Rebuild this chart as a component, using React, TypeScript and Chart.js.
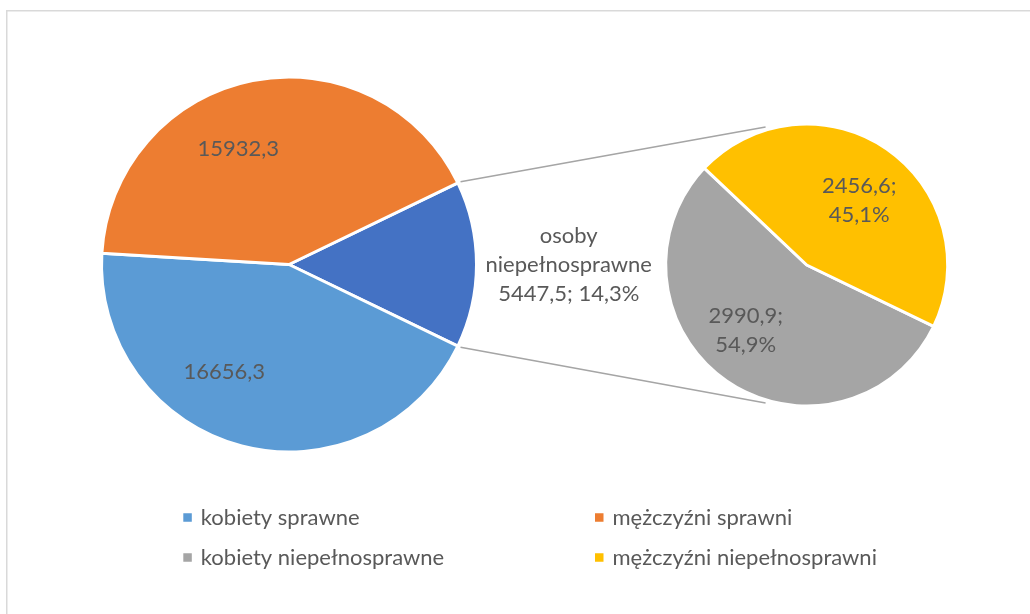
import { useEffect, useRef } from "react";
import { Chart, registerables } from "chart.js";

Chart.register(...registerables);

// ---- data ----
const mainLabels = ["osoby niepełnosprawne", "kobiety sprawne", "mężczyźni sprawni"];
const mainValues = [5447.5, 16656.3, 15932.3];
const mainColors = ["#4472C4", "#5B9BD5", "#ED7D31"];

const subLabels = ["kobiety niepełnosprawne", "mężczyźni niepełnosprawni"];
const subValues = [2990.9, 2456.6];
const subColors = ["#A5A5A5", "#FFC000"];

const legendLabels = ["kobiety sprawne", "mężczyźni sprawni", "kobiety niepełnosprawne", "mężczyźni niepełnosprawni"];

// ---- style ----
const W = 1030;
const H = 614;
const FONT = "22px Lato, 'Open Sans', sans-serif";
const TEXT = "#595959";
const BORDER = 3;
const MAIN_C = { x: 289, y: 264.5, r: 186 };
const SUB_C = { x: 806.7, y: 265, r: 139.5 };
// label placement relative to slice middle: angle offset (deg), radius factor
const mainLabelPos = [
  { da: 0, k: 1.504 },
  { da: 16.4, k: 0.676 },
  { da: -12.5, k: 0.68 },
];
const subLabelPos = [
  { da: 8.3, k: 0.642 },
  { da: 4.5, k: 0.597 },
];
const LINE_H = 29;

const fmt = (v: number) => v.toFixed(1).replace(".", ",");
const sum = (a: number[]) => a.reduce((s, v) => s + v, 0);

function labelPlugin(texts: string[][], pos: { da: number; k: number }[]) {
  return {
    id: "dataLabelsCustom",
    afterDatasetsDraw(chart: any) {
      const ctx = chart.ctx;
      const arcs = chart.getDatasetMeta(0).data;
      ctx.save();
      ctx.font = FONT;
      ctx.fillStyle = TEXT;
      ctx.textAlign = "center";
      ctx.textBaseline = "middle";
      arcs.forEach((arc: any, i: number) => {
        const { x, y, startAngle, endAngle, outerRadius } = arc.getProps(
          ["x", "y", "startAngle", "endAngle", "outerRadius"],
          true
        );
        const a = (startAngle + endAngle) / 2 + (pos[i].da * Math.PI) / 180;
        const r = (outerRadius - BORDER / 2) * pos[i].k;
        const cx = x + r * Math.cos(a);
        const cy = y + r * Math.sin(a);
        const lines = texts[i];
        lines.forEach((t, j) => ctx.fillText(t, cx, cy + (j - (lines.length - 1) / 2) * LINE_H));
      });
      ctx.restore();
    },
  };
}

export default function App() {
  const mainRef = useRef<HTMLCanvasElement>(null);
  const subRef = useRef<HTMLCanvasElement>(null);

  useEffect(() => {
    if (!mainRef.current || !subRef.current) return;
    const total = sum(mainValues);
    const subTotal = sum(subValues);
    const halfDeg = (mainValues[0] / total) * 180;

    const mainTexts = [
      ["osoby", "niepełnosprawne", `${fmt(mainValues[0])}; ${fmt((mainValues[0] / total) * 100)}%`],
      [fmt(mainValues[1])],
      [fmt(mainValues[2])],
    ];
    const subTexts = subValues.map((v) => [`${fmt(v)};`, `${fmt((v / subTotal) * 100)}%`]);

    const framePlugin = {
      id: "frame",
      beforeDraw(chart: any) {
        const ctx = chart.ctx;
        ctx.save();
        ctx.strokeStyle = "#d9d9d9";
        ctx.lineWidth = 1.5;
        ctx.beginPath();
        ctx.moveTo(6.75, H + 10);
        ctx.lineTo(6.75, 10.75);
        ctx.lineTo(W + 10, 10.75);
        ctx.stroke();
        ctx.restore();
      },
    };

    const mR = MAIN_C.r + BORDER / 2;
    const mainChart = new Chart(mainRef.current, {
      type: "pie",
      data: {
        labels: mainLabels,
        datasets: [
          {
            data: mainValues,
            backgroundColor: mainColors,
            borderColor: "#ffffff",
            borderWidth: BORDER,
          },
        ],
      },
      options: {
        responsive: false,
        animation: false,
        events: [],
        rotation: 90 - halfDeg,
        radius: mR,
        layout: {
          padding: {
            left: MAIN_C.x - mR,
            top: MAIN_C.y - mR,
            right: W - (MAIN_C.x + mR),
            bottom: H - (MAIN_C.y + mR),
          },
        },
        plugins: { legend: { display: false }, tooltip: { enabled: false } },
      },
      plugins: [framePlugin, labelPlugin(mainTexts, mainLabelPos)],
    } as any);

    const connectorPlugin = {
      id: "connectors",
      beforeDatasetsDraw(chart: any) {
        const ctx = chart.ctx;
        const src = mainChart.getDatasetMeta(0).data[0] as any;
        const s = src.getProps(["x", "y", "startAngle", "endAngle", "outerRadius"], true);
        const dst = chart.getDatasetMeta(0).data[0] as any;
        const d = dst.getProps(["x", "y", "outerRadius"], true);
        const gap = 4.5;
        const rs = s.outerRadius - BORDER / 2 + gap;
        const rd = d.outerRadius - BORDER / 2 + gap;
        const spread = (73.4 * Math.PI) / 180;
        const pairs = [
          [s.startAngle, Math.PI + spread],
          [s.endAngle, Math.PI - spread],
        ];
        ctx.save();
        ctx.strokeStyle = "#a5a5a5";
        ctx.lineWidth = 1.5;
        pairs.forEach(([a1, a2]) => {
          ctx.beginPath();
          ctx.moveTo(s.x + rs * Math.cos(a1), s.y + rs * Math.sin(a1));
          ctx.lineTo(d.x + rd * Math.cos(a2), d.y + rd * Math.sin(a2));
          ctx.stroke();
        });
        ctx.restore();
      },
    };

    const legendPlugin = {
      id: "customLegend",
      afterDraw(chart: any) {
        const ctx = chart.ctx;
        const colorOf: Record<string, string> = {};
        mainLabels.forEach((l, i) => (colorOf[l] = mainColors[i]));
        subLabels.forEach((l, i) => (colorOf[l] = subColors[i]));
        const cols = [183.3, 595];
        const rows = [517.5, 557.5];
        const box = 8.5;
        ctx.save();
        ctx.font = FONT;
        ctx.textAlign = "left";
        ctx.textBaseline = "middle";
        legendLabels.forEach((l, i) => {
          const x = cols[i % 2];
          const y = rows[Math.floor(i / 2)];
          ctx.fillStyle = colorOf[l];
          ctx.fillRect(x, y - box / 2, box, box);
          ctx.fillStyle = TEXT;
          ctx.fillText(l, x + box + 9, y);
        });
        ctx.restore();
      },
    };

    const sR = SUB_C.r + BORDER / 2;
    const subChart = new Chart(subRef.current, {
      type: "pie",
      data: {
        labels: subLabels,
        datasets: [
          {
            data: subValues,
            backgroundColor: subColors,
            borderColor: "#ffffff",
            borderWidth: BORDER,
          },
        ],
      },
      options: {
        responsive: false,
        animation: false,
        events: [],
        rotation: 90 + halfDeg,
        radius: sR,
        layout: {
          padding: {
            left: SUB_C.x - sR,
            top: SUB_C.y - sR,
            right: W - (SUB_C.x + sR),
            bottom: H - (SUB_C.y + sR),
          },
        },
        plugins: { legend: { display: false }, tooltip: { enabled: false } },
      },
      plugins: [connectorPlugin, labelPlugin(subTexts, subLabelPos), legendPlugin],
    } as any);

    return () => {
      subChart.destroy();
      mainChart.destroy();
    };
  }, []);

  return (
    <div
      style={{
        position: "fixed",
        left: 0,
        top: 0,
        width: W,
        height: H,
        overflow: "hidden",
        background: "#ffffff",
      }}
    >
      <canvas ref={mainRef} width={W} height={H} style={{ position: "absolute", left: 0, top: 0 }} />
      <canvas ref={subRef} width={W} height={H} style={{ position: "absolute", left: 0, top: 0 }} />
    </div>
  );
}
